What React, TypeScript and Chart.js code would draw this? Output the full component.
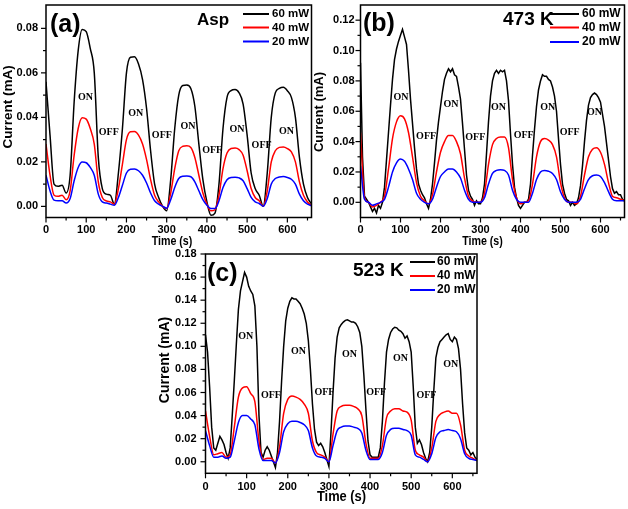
import { useEffect, useRef } from 'react';
import { Chart, registerables } from 'chart.js';
Chart.register(...registerables);

// ---------- data ----------
const TIME = [
  0, 10, 20, 30, 40, 50, 60, 70, 80, 90,
  100, 110, 120, 130, 140, 150, 160, 170, 180, 190,
  200, 210, 220, 230, 240, 250, 260, 270, 280, 290,
  300, 310, 320, 330, 340, 350, 360, 370, 380, 390,
  400, 410, 420, 430, 440, 450, 460, 470, 480, 490,
  500, 510, 520, 530, 540, 550, 560, 570, 580, 590,
  600, 610, 620, 630, 640, 650, 660,
];
const TIME_FINE = [
  0, 5, 10, 15, 20, 25, 30, 35, 40, 45,
  50, 55, 60, 65, 70, 75, 80, 85, 90, 95,
  100, 105, 110, 115, 120, 125, 130, 135, 140, 145,
  150, 155, 160, 165, 170, 175, 180, 185, 190, 195,
  200, 205, 210, 215, 220, 225, 230, 235, 240, 245,
  250, 255, 260, 265, 270, 275, 280, 285, 290, 295,
  300, 305, 310, 315, 320, 325, 330, 335, 340, 345,
  350, 355, 360, 365, 370, 375, 380, 385, 390, 395,
  400, 405, 410, 415, 420, 425, 430, 435, 440, 445,
  450, 455, 460, 465, 470, 475, 480, 485, 490, 495,
  500, 505, 510, 515, 520, 525, 530, 535, 540, 545,
  550, 555, 560, 565, 570, 575, 580, 585, 590, 595,
  600, 605, 610, 615, 620, 625, 630, 635, 640, 645,
  650, 655, 660,
];

// (a) Asp
const A60 = [
  0.056, 0.032, 0.010, 0.009, 0.0095, 0.006, 0.014, 0.047, 0.070, 0.0795,
  0.0785, 0.071, 0.060, 0.022, 0.008, 0.0055, 0.005, 0.001, 0.015, 0.035,
  0.060, 0.067, 0.0672, 0.064, 0.057, 0.044, 0.025, 0.010, 0.004, 0.000,
  -0.002, 0.012, 0.035, 0.050, 0.0543, 0.0545, 0.053, 0.045, 0.028, 0.012,
  0.002, -0.004, -0.003, 0.010, 0.035, 0.049, 0.052, 0.0525, 0.051, 0.046,
  0.032, 0.015, 0.008, 0.005, 0.000, 0.015, 0.040, 0.051, 0.053, 0.0535,
  0.052, 0.049, 0.040, 0.022, 0.010, 0.004, 0.001,
];
const A40 = [
  0.028, 0.014, 0.005, 0.0045, 0.005, 0.003, 0.007, 0.023, 0.035, 0.0398,
  0.0392, 0.035, 0.028, 0.011, 0.004, 0.0025, 0.002, 0.001, 0.008, 0.019,
  0.030, 0.0335, 0.0336, 0.032, 0.028, 0.021, 0.012, 0.005, 0.002, 0.000,
  -0.001, 0.006, 0.017, 0.025, 0.027, 0.0272, 0.0265, 0.022, 0.014, 0.006,
  0.001, -0.002, -0.0015, 0.005, 0.017, 0.024, 0.026, 0.0262, 0.0255, 0.023,
  0.016, 0.008, 0.004, 0.0025, 0.000, 0.007, 0.020, 0.025, 0.0265, 0.0267,
  0.026, 0.0245, 0.020, 0.011, 0.005, 0.002, 0.0005,
];
const A20 = [
  0.014, 0.007, 0.0028, 0.0025, 0.0025, 0.0015, 0.0035, 0.0115, 0.0175, 0.0199,
  0.0196, 0.0175, 0.014, 0.0055, 0.002, 0.0015, 0.001, 0.0005, 0.004, 0.0095,
  0.015, 0.0167, 0.0168, 0.016, 0.014, 0.0105, 0.006, 0.0025, 0.001, 0.000,
  -0.0008, 0.003, 0.0085, 0.0125, 0.0135, 0.0136, 0.0133, 0.011, 0.007, 0.003,
  0.0005, -0.001, -0.001, 0.0025, 0.0085, 0.012, 0.013, 0.0131, 0.0128, 0.0115,
  0.008, 0.004, 0.002, 0.0013, 0.000, 0.0035, 0.010, 0.0125, 0.0132, 0.0134,
  0.013, 0.0122, 0.010, 0.0055, 0.0025, 0.001, 0.0003,
];

// (b) 473 K  (60 mW sampled every 5 s)
const B60 = [
  0.092, 0.030, 0.004, 0.002, 0.000, -0.003, -0.006, -0.004, -0.007, -0.002,
  -0.004, 0.000, 0.010, 0.028, 0.046, 0.064, 0.081, 0.094, 0.101, 0.106,
  0.110, 0.114, 0.109, 0.104, 0.087, 0.068, 0.052, 0.036, 0.022, 0.012,
  0.008, 0.005, 0.003, -0.001, -0.004, 0.002, 0.012, 0.026, 0.041, 0.053,
  0.063, 0.073, 0.081, 0.085, 0.088, 0.086, 0.088, 0.084, 0.083, 0.076,
  0.068, 0.052, 0.035, 0.018, 0.008, 0.004, 0.002, -0.002, 0.001, -0.001,
  -0.001, 0.003, 0.012, 0.032, 0.053, 0.070, 0.080, 0.085, 0.087, 0.085,
  0.087, 0.086, 0.087, 0.080, 0.067, 0.045, 0.025, 0.010, 0.003, -0.002,
  -0.004, -0.002, 0.000, 0.000, 0.002, 0.012, 0.031, 0.048, 0.063, 0.074,
  0.080, 0.084, 0.083, 0.083, 0.081, 0.080, 0.076, 0.070, 0.060, 0.042,
  0.025, 0.012, 0.006, 0.002, 0.001, -0.002, 0.000, -0.002, -0.001, 0.003,
  0.011, 0.024, 0.040, 0.054, 0.064, 0.069, 0.071, 0.072, 0.071, 0.069,
  0.066, 0.058, 0.050, 0.039, 0.028, 0.017, 0.009, 0.006, 0.007, 0.005,
  0.005, 0.002, 0.001,
];
const B40 = [
  0.046, 0.003, 0.000, -0.003, -0.002, 0.000, 0.004, 0.022, 0.042, 0.053,
  0.057, 0.055, 0.046, 0.030, 0.013, 0.004, 0.001, -0.001, 0.005, 0.020,
  0.033, 0.040, 0.044, 0.044, 0.040, 0.032, 0.016, 0.004, 0.001, 0.000,
  0.000, 0.006, 0.025, 0.038, 0.042, 0.043, 0.043, 0.036, 0.015, 0.003,
  -0.001, 0.000, 0.001, 0.012, 0.030, 0.040, 0.042, 0.041, 0.038, 0.030,
  0.013, 0.003, 0.000, 0.000, -0.001, 0.004, 0.018, 0.030, 0.035, 0.036,
  0.033, 0.025, 0.013, 0.004, 0.003, 0.002, 0.001,
];
const B20 = [
  0.024, 0.002, 0.000, -0.002, -0.001, 0.000, 0.002, 0.010, 0.020, 0.026,
  0.0285, 0.027, 0.022, 0.015, 0.006, 0.002, 0.000, -0.001, 0.002, 0.010,
  0.017, 0.020, 0.022, 0.022, 0.020, 0.016, 0.008, 0.002, 0.000, 0.000,
  0.000, 0.003, 0.012, 0.019, 0.021, 0.0215, 0.021, 0.018, 0.008, 0.002,
  0.000, 0.000, 0.000, 0.006, 0.015, 0.020, 0.021, 0.0205, 0.019, 0.015,
  0.007, 0.002, 0.000, 0.000, 0.000, 0.002, 0.009, 0.015, 0.0175, 0.018,
  0.017, 0.013, 0.007, 0.002, 0.001, 0.001, 0.001,
];

// (c) 523 K  (60 mW sampled every 5 s)
const C60 = [
  0.110, 0.095, 0.065, 0.030, 0.012, 0.010, 0.016, 0.022, 0.019, 0.015,
  0.008, 0.003, 0.012, 0.040, 0.070, 0.102, 0.132, 0.148, 0.156, 0.164,
  0.160, 0.152, 0.148, 0.145, 0.135, 0.100, 0.040, 0.008, 0.004, 0.010,
  0.013, 0.010, 0.005, 0.000, -0.005, 0.008, 0.035, 0.070, 0.100, 0.122,
  0.133, 0.139, 0.142, 0.141, 0.141, 0.139, 0.137, 0.133, 0.128, 0.120,
  0.105, 0.080, 0.050, 0.028, 0.017, 0.014, 0.016, 0.013, 0.008, 0.002,
  -0.004, 0.025, 0.060, 0.090, 0.108, 0.116, 0.119, 0.121, 0.1225, 0.123,
  0.122, 0.121, 0.121, 0.120, 0.117, 0.112, 0.100, 0.075, 0.045, 0.018,
  0.006, 0.004, 0.004, 0.004, 0.004, 0.012, 0.035, 0.068, 0.095, 0.106,
  0.112, 0.115, 0.1165, 0.116, 0.114, 0.113, 0.111, 0.107, 0.109, 0.104,
  0.095, 0.065, 0.030, 0.016, 0.019, 0.015, 0.008, 0.003, 0.000, 0.008,
  0.030, 0.062, 0.090, 0.099, 0.104, 0.106, 0.108, 0.110, 0.111, 0.106,
  0.104, 0.108, 0.106, 0.098, 0.080, 0.050, 0.025, 0.012, 0.010, 0.006,
  0.008, 0.004, 0.002,
];
const C40 = [
  0.044, 0.022, 0.006, 0.007, 0.008, 0.004, 0.006, 0.030, 0.056, 0.064,
  0.065, 0.059, 0.052, 0.018, 0.002, 0.003, 0.003, -0.001, 0.013, 0.042,
  0.054, 0.057, 0.056, 0.054, 0.050, 0.042, 0.018, 0.008, 0.006, 0.004,
  0.000, 0.024, 0.044, 0.048, 0.049, 0.049, 0.048, 0.046, 0.040, 0.016,
  0.003, 0.003, 0.003, 0.014, 0.038, 0.044, 0.046, 0.046, 0.044, 0.043,
  0.036, 0.010, 0.006, 0.004, 0.000, 0.012, 0.035, 0.041, 0.043, 0.044,
  0.042, 0.042, 0.032, 0.010, 0.005, 0.003, 0.001,
];
const C20 = [
  0.027, 0.014, 0.004, 0.004, 0.005, 0.003, 0.004, 0.018, 0.034, 0.040,
  0.040, 0.037, 0.032, 0.011, 0.001, 0.001, 0.001, -0.001, 0.008, 0.026,
  0.033, 0.035, 0.035, 0.034, 0.032, 0.027, 0.012, 0.005, 0.004, 0.003,
  0.000, 0.014, 0.027, 0.030, 0.031, 0.031, 0.030, 0.029, 0.025, 0.010,
  0.002, 0.002, 0.002, 0.008, 0.023, 0.028, 0.029, 0.029, 0.028, 0.027,
  0.023, 0.006, 0.004, 0.002, 0.000, 0.007, 0.021, 0.026, 0.027, 0.028,
  0.027, 0.026, 0.020, 0.007, 0.003, 0.002, 0.001,
];

// ON / OFF annotation anchors (time, current)
const ON_A_T = [98, 223, 353, 475, 598];
const ON_A_V = [0.0489, 0.0419, 0.0359, 0.0348, 0.0336];
const OFF_A_T = [156, 288, 413, 536];
const OFF_A_V = [0.0333, 0.0317, 0.0251, 0.0274];
const ON_B_T = [101, 226, 345, 468, 585];
const ON_B_V = [0.0688, 0.0644, 0.0626, 0.0622, 0.0589];
const OFF_B_T = [164, 287, 408, 523];
const OFF_B_V = [0.0435, 0.0429, 0.044, 0.0462];
const ON_C_T = [98, 226, 350, 474, 596];
const ON_C_V = [0.1089, 0.0959, 0.093, 0.0896, 0.0846];
const OFF_C_T = [159, 289, 415, 537];
const OFF_C_V = [0.0578, 0.0598, 0.0598, 0.0578];

// ticks
const X_TICKS = [0, 100, 200, 300, 400, 500, 600];
const X_MINOR = [50, 150, 250, 350, 450, 550, 650];
const A_Y_TICKS = [0, 0.02, 0.04, 0.06, 0.08];
const A_Y_MINOR = [0.01, 0.03, 0.05, 0.07];
const B_Y_TICKS = [0, 0.02, 0.04, 0.06, 0.08, 0.1, 0.12];
const B_Y_MINOR = [0.01, 0.03, 0.05, 0.07, 0.09, 0.11];
const C_Y_TICKS = [0, 0.02, 0.04, 0.06, 0.08, 0.1, 0.12, 0.14, 0.16, 0.18];
const C_Y_MINOR = [0.01, 0.03, 0.05, 0.07, 0.09, 0.11, 0.13, 0.15, 0.17];

const SERIES_LABELS = ['60 mW', '40 mW', '20 mW'];
const SERIES_COLORS = ['#000000', '#ff0000', '#0000ff'];
const X_TITLE = 'Time (s)';
const Y_TITLE = 'Current (mA)';

const SANS = '"Liberation Sans", Arial, sans-serif';
const SERIF = '"Liberation Serif", "Times New Roman", serif';

type Series = { t: number[]; v: number[]; smooth: boolean };
type Panel = {
  x: number; y: number; w: number; h: number;
  area: { l: number; t: number; r: number; b: number };
  yMin: number; yMax: number; yTicks: number[]; yMinor: number[];
  xPad: number; yPad: number;
  series: Series[];
  onT: number[]; onV: number[]; offT: number[]; offV: number[];
  tag: { text: string; x: number; y: number };
  sample: { text: string; x: number; y: number; size: number };
  legend: { x1: number; x2: number; tx: number; rows: number[]; size: number };
  yTitle: { x: number; y: number; size: number };
  xTitle: { x: number; y: number; size: number; sx: number };
};

const PANELS: Panel[] = [
  {
    x: 0, y: 0, w: 318, h: 250,
    area: { l: 46, t: 5, r: 311.5, b: 217.5 },
    yMin: -0.005, yMax: 0.0905, yTicks: A_Y_TICKS, yMinor: A_Y_MINOR,
    xPad: 6, yPad: 8,
    series: [
      { t: TIME, v: A60, smooth: true },
      { t: TIME, v: A40, smooth: true },
      { t: TIME, v: A20, smooth: true },
    ],
    onT: ON_A_T, onV: ON_A_V, offT: OFF_A_T, offV: OFF_A_V,
    tag: { text: '(a)', x: 50, y: 25 },
    sample: { text: 'Asp', x: 197, y: 20, size: 17 },
    legend: { x1: 243, x2: 269, tx: 272, rows: [14, 27.5, 41.5], size: 11.5 },
    yTitle: { x: 8.5, y: 107, size: 13.5 },
    xTitle: { x: 172, y: 241, size: 13, sx: 0.82 },
  },
  {
    x: 312, y: 0, w: 316, h: 250,
    area: { l: 360.5, t: 5, r: 624.5, b: 217.5 },
    yMin: -0.01, yMax: 0.13, yTicks: B_Y_TICKS, yMinor: B_Y_MINOR,
    xPad: 6, yPad: 6,
    series: [
      { t: TIME_FINE, v: B60, smooth: false },
      { t: TIME, v: B40, smooth: true },
      { t: TIME, v: B20, smooth: true },
    ],
    onT: ON_B_T, onV: ON_B_V, offT: OFF_B_T, offV: OFF_B_V,
    tag: { text: '(b)', x: 363, y: 24 },
    sample: { text: '473 K', x: 503, y: 20, size: 19 },
    legend: { x1: 550, x2: 579, tx: 582, rows: [14, 27.5, 42], size: 12 },
    yTitle: { x: 319.5, y: 112, size: 13 },
    xTitle: { x: 482.5, y: 241.5, size: 13, sx: 0.82 },
  },
  {
    x: 150, y: 245, w: 330, h: 264,
    area: { l: 205.5, t: 254, r: 477, b: 473.3 },
    yMin: -0.01, yMax: 0.18, yTicks: C_Y_TICKS, yMinor: C_Y_MINOR,
    xPad: 7, yPad: 9,
    series: [
      { t: TIME_FINE, v: C60, smooth: false },
      { t: TIME, v: C40, smooth: true },
      { t: TIME, v: C20, smooth: true },
    ],
    onT: ON_C_T, onV: ON_C_V, offT: OFF_C_T, offV: OFF_C_V,
    tag: { text: '(c)', x: 207, y: 274 },
    sample: { text: '523 K', x: 353, y: 271, size: 19 },
    legend: { x1: 410, x2: 435, tx: 437, rows: [262, 276, 290], size: 12 },
    yTitle: { x: 165, y: 360, size: 14 },
    xTitle: { x: 341.5, y: 497.5, size: 14, sx: 0.92 },
  },
];

function makePlugin(p: Panel) {
  return {
    id: 'decor',
    afterDraw(chart: any) {
      const ctx: CanvasRenderingContext2D = chart.ctx;
      const a = chart.chartArea;
      const xs = chart.scales.x;
      const ys = chart.scales.y;
      const ox = p.x, oy = p.y;
      ctx.save();
      ctx.strokeStyle = '#000';
      ctx.fillStyle = '#000';
      // frame
      ctx.lineWidth = 1.5;
      ctx.strokeRect(a.left, a.top, a.right - a.left, a.bottom - a.top);
      // ticks
      ctx.lineWidth = 1.2;
      const seg = (x1: number, y1: number, x2: number, y2: number) => {
        ctx.beginPath(); ctx.moveTo(x1, y1); ctx.lineTo(x2, y2); ctx.stroke();
      };
      X_TICKS.forEach((v) => { const px = xs.getPixelForValue(v); seg(px, a.bottom, px, a.bottom + 5); });
      X_MINOR.forEach((v) => { const px = xs.getPixelForValue(v); seg(px, a.bottom, px, a.bottom + 3); });
      p.yTicks.forEach((v) => { const py = ys.getPixelForValue(v); seg(a.left, py, a.left - 5, py); });
      p.yMinor.forEach((v) => { const py = ys.getPixelForValue(v); seg(a.left, py, a.left - 3, py); });

      // ON / OFF labels
      ctx.font = `bold 10px ${SERIF}`;
      ctx.textAlign = 'center';
      ctx.textBaseline = 'middle';
      p.onT.forEach((t, i) => ctx.fillText('ON', xs.getPixelForValue(t), ys.getPixelForValue(p.onV[i])));
      p.offT.forEach((t, i) => ctx.fillText('OFF', xs.getPixelForValue(t), ys.getPixelForValue(p.offV[i])));

      // panel tag & sample name
      ctx.textAlign = 'left';
      ctx.font = `bold 25px ${SANS}`;
      ctx.fillText(p.tag.text, p.tag.x - ox, p.tag.y - oy);
      ctx.font = `bold ${p.sample.size}px ${SANS}`;
      ctx.fillText(p.sample.text, p.sample.x - ox, p.sample.y - oy);

      // legend
      ctx.font = `bold ${p.legend.size}px ${SANS}`;
      SERIES_LABELS.forEach((lab, i) => {
        const ry = p.legend.rows[i] - oy;
        ctx.strokeStyle = SERIES_COLORS[i];
        ctx.lineWidth = 2;
        seg(p.legend.x1 - ox, ry, p.legend.x2 - ox, ry);
        ctx.fillStyle = '#000';
        ctx.fillText(lab, p.legend.tx - ox, ry);
      });

      // axis titles
      ctx.fillStyle = '#000';
      ctx.textAlign = 'center';
      ctx.save();
      ctx.translate(p.yTitle.x - ox, p.yTitle.y - oy);
      ctx.rotate(-Math.PI / 2);
      ctx.font = `bold ${p.yTitle.size}px ${SANS}`;
      ctx.fillText(Y_TITLE, 0, 0);
      ctx.restore();
      ctx.save();
      ctx.translate(p.xTitle.x - ox, p.xTitle.y - oy);
      ctx.scale(p.xTitle.sx, 1);
      ctx.font = `bold ${p.xTitle.size}px ${SANS}`;
      ctx.fillText(X_TITLE, 0, 0);
      ctx.restore();

      ctx.restore();
    },
  };
}

function zeroPad(s: any) {
  s.paddingTop = 0;
  s.paddingBottom = 0;
  s.paddingLeft = 0;
  s.paddingRight = 0;
}

function PanelChart({ p }: { p: Panel }) {
  const ref = useRef<HTMLCanvasElement>(null);
  useEffect(() => {
    const canvas = ref.current!;
    const tickFont = { family: SANS, size: 11, weight: 'bold' as const };
    const chart = new Chart(canvas, {
      type: 'line',
      data: {
        datasets: p.series.map((s, si) => ({
          label: SERIES_LABELS[si],
          data: s.t.map((t, i) => ({ x: t, y: s.v[i] })),
          borderColor: SERIES_COLORS[si],
          backgroundColor: SERIES_COLORS[si],
          borderWidth: 1.5,
          pointRadius: 0,
          cubicInterpolationMode: s.smooth ? ('monotone' as const) : ('default' as const),
          tension: 0,
          order: 3 - si,
        })),
      },
      options: {
        responsive: false,
        animation: false,
        devicePixelRatio: 1,
        layout: {
          padding: { left: 0, top: p.area.t - p.y, right: p.x + p.w - p.area.r, bottom: 0 },
        },
        plugins: { legend: { display: false }, tooltip: { enabled: false } },
        scales: {
          x: {
            type: 'linear',
            min: 0,
            max: 660,
            grid: { display: false, drawTicks: false },
            border: { display: false },
            ticks: {
              font: tickFont, color: '#000', padding: p.xPad, maxRotation: 0, autoSkip: false,
              callback: (v: any) => String(v),
            },
            afterBuildTicks: (s: any) => { s.ticks = X_TICKS.map((value) => ({ value })); },
            afterFit: (s: any) => { s.height = p.y + p.h - p.area.b; zeroPad(s); },
          },
          y: {
            type: 'linear',
            min: p.yMin,
            max: p.yMax,
            grid: { display: false, drawTicks: false },
            border: { display: false },
            ticks: {
              font: tickFont, color: '#000', padding: p.yPad, autoSkip: false,
              callback: (v: any) => Number(v).toFixed(2),
            },
            afterBuildTicks: (s: any) => { s.ticks = p.yTicks.map((value) => ({ value })); },
            afterFit: (s: any) => { s.width = p.area.l - p.x; zeroPad(s); },
          },
        },
      },
      plugins: [makePlugin(p)],
    });
    return () => chart.destroy();
  }, [p]);
  return (
    <canvas
      ref={ref}
      width={p.w}
      height={p.h}
      style={{ position: 'absolute', left: p.x, top: p.y, width: p.w, height: p.h }}
    />
  );
}

export default function App() {
  return (
    <div style={{ position: 'absolute', left: 0, top: 0, width: 628, height: 509, background: '#fff', overflow: 'hidden' }}>
      {PANELS.map((p, i) => <PanelChart key={i} p={p} />)}
    </div>
  );
}
